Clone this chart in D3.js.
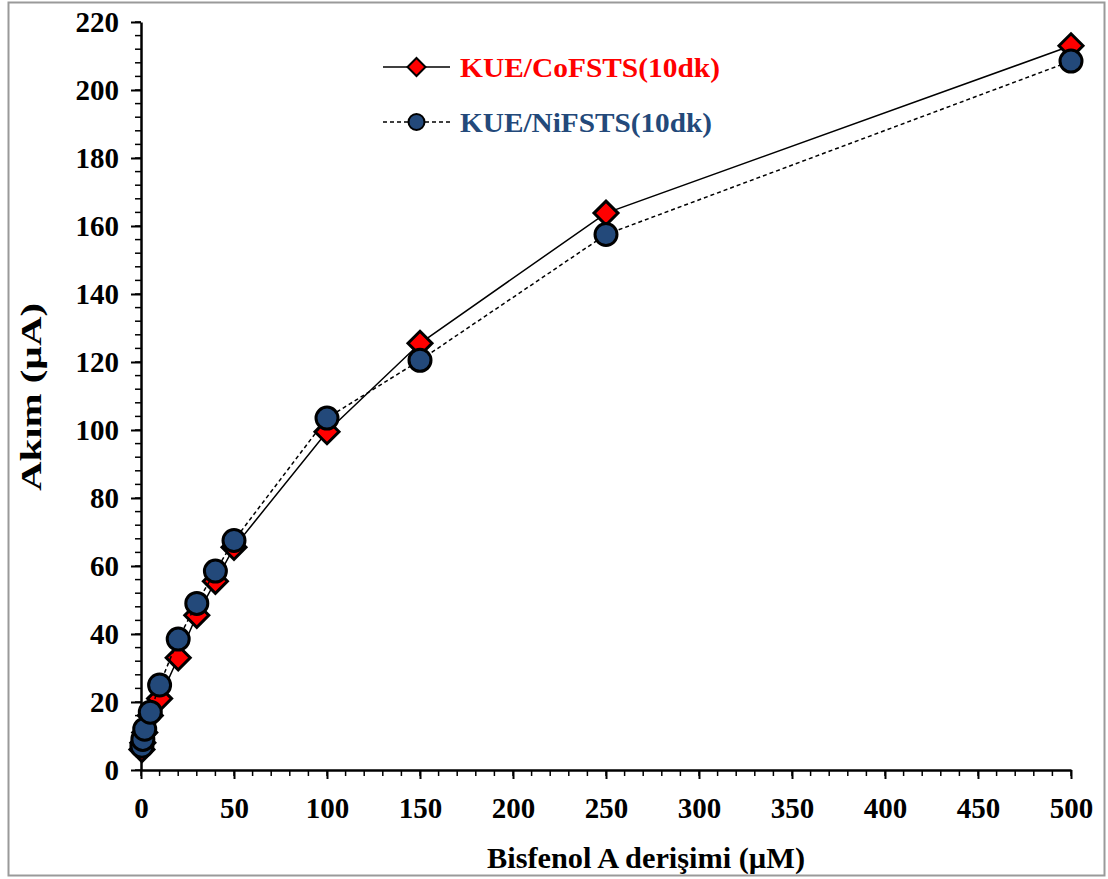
<!DOCTYPE html>
<html><head><meta charset="utf-8">
<script src="https://cdn.jsdelivr.net/npm/d3@7"></script>
<style>body{margin:0;background:#fff}svg{display:block}</style>
</head><body>
<svg id="c" width="1108" height="879"></svg>
<script>
const concentrations = [0.5, 1, 2, 5, 10, 20, 30, 40, 50, 100, 150, 250, 500];
const coValues = [6, 8, 11, 16, 21, 33, 45.5, 55.5, 65.5, 99.5, 125.5, 163.8, 213];
const niValues = [7, 9, 12, 17, 25, 38.5, 49, 58.5, 67.5, 103.5, 120.5, 157.5, 208.5];
const xTicks = [0, 50, 100, 150, 200, 250, 300, 350, 400, 450, 500];
const yTicks = [0, 20, 40, 60, 80, 100, 120, 140, 160, 180, 200, 220];
const seriesNames = ["KUE/CoFSTS(10dk)", "KUE/NiFSTS(10dk)"];

const svg = d3.select("#c");
const font = "'Liberation Serif','Times New Roman',serif";
svg.append("rect").attr("x", 8.5).attr("y", 2.5).attr("width", 1096).attr("height", 873)
  .attr("fill", "#fff").attr("stroke", "#9a9a9a").attr("stroke-width", 2);

const x = d3.scaleLinear().domain([0, 500]).range([141, 1071]);
const y = d3.scaleLinear().domain([0, 220]).range([770, 22]);

// minor ticks
const g = svg.append("g");
g.selectAll(".xm").data(d3.range(0, 501, 10)).join("line")
  .attr("x1", d => x(d)).attr("x2", d => x(d)).attr("y1", y(0)).attr("y2", y(0) + 6)
  .attr("stroke", "#000").attr("stroke-width", 1.5);
g.selectAll(".ym").data(d3.range(0, 221, 4)).join("line")
  .attr("y1", d => y(d)).attr("y2", d => y(d)).attr("x1", x(0)).attr("x2", x(0) - 6)
  .attr("stroke", "#000").attr("stroke-width", 1.5);

const xAxis = svg.append("g").attr("transform", `translate(0,${y(0)})`)
  .call(d3.axisBottom(x).tickValues(xTicks).tickSize(9).tickSizeOuter(0).tickPadding(18));
const yAxis = svg.append("g").attr("transform", `translate(${x(0)},0)`)
  .call(d3.axisLeft(y).tickValues(yTicks).tickSize(10).tickSizeOuter(0).tickPadding(12));
[xAxis, yAxis].forEach(a => {
  a.select(".domain").attr("stroke", "#000").attr("stroke-width", 2.5);
  a.selectAll(".tick line").attr("stroke", "#000").attr("stroke-width", 2);
  a.selectAll("text").attr("font-family", font).attr("font-weight", "bold")
    .attr("font-size", 29).attr("fill", "#000");
});

svg.append("text").attr("x", 646).attr("y", 868).attr("text-anchor", "middle")
  .attr("font-family", font).attr("font-weight", "bold").attr("font-size", 30)
  .attr("textLength", 318).attr("lengthAdjust", "spacingAndGlyphs")
  .text("Bisfenol A derişimi (µM)");
svg.append("text").attr("transform", "translate(41,397) rotate(-90)").attr("text-anchor", "middle")
  .attr("font-family", font).attr("font-weight", "bold").attr("font-size", 29)
  .attr("textLength", 188).attr("lengthAdjust", "spacingAndGlyphs")
  .text("Akım (µA)");

const line = d3.line().x(d => x(d[0])).y(d => y(d[1]));
const coData = concentrations.map((c, i) => [c, coValues[i]]);
const niData = concentrations.map((c, i) => [c, niValues[i]]);

const diamond = (cx, cy, r) => `M${cx},${cy - r}L${cx + r},${cy}L${cx},${cy + r}L${cx - r},${cy}Z`;

svg.append("path").datum(coData).attr("d", line).attr("fill", "none")
  .attr("stroke", "#000").attr("stroke-width", 1.5);
svg.selectAll(".co").data(coData).join("path")
  .attr("d", d => diamond(x(d[0]), y(d[1]), 12))
  .attr("fill", "#ff0000").attr("stroke", "#000").attr("stroke-width", 3);

svg.append("path").datum(niData).attr("d", line).attr("fill", "none")
  .attr("stroke", "#000").attr("stroke-width", 1.5).attr("stroke-dasharray", "4,3");
svg.selectAll(".ni").data(niData).join("circle")
  .attr("cx", d => x(d[0])).attr("cy", d => y(d[1])).attr("r", 11)
  .attr("fill", "#23497a").attr("stroke", "#000").attr("stroke-width", 3);

// legend
const lg = svg.append("g");
lg.append("line").attr("x1", 383).attr("x2", 450).attr("y1", 67).attr("y2", 67)
  .attr("stroke", "#000").attr("stroke-width", 1.5);
lg.append("path").attr("d", diamond(416.5, 67, 9)).attr("fill", "#ff0000")
  .attr("stroke", "#000").attr("stroke-width", 2);
lg.append("text").attr("x", 460).attr("y", 77).attr("font-family", font).attr("font-weight", "bold")
  .attr("font-size", 28).attr("fill", "#ff0000")
  .attr("textLength", 260).attr("lengthAdjust", "spacingAndGlyphs").text(seriesNames[0]);
lg.append("line").attr("x1", 383).attr("x2", 450).attr("y1", 122).attr("y2", 122)
  .attr("stroke", "#000").attr("stroke-width", 1.5).attr("stroke-dasharray", "4,3");
lg.append("circle").attr("cx", 416.5).attr("cy", 122).attr("r", 8).attr("fill", "#23497a")
  .attr("stroke", "#000").attr("stroke-width", 2);
lg.append("text").attr("x", 460).attr("y", 132).attr("font-family", font).attr("font-weight", "bold")
  .attr("font-size", 28).attr("fill", "#23497a")
  .attr("textLength", 252).attr("lengthAdjust", "spacingAndGlyphs").text(seriesNames[1]);
</script>
</body></html>
